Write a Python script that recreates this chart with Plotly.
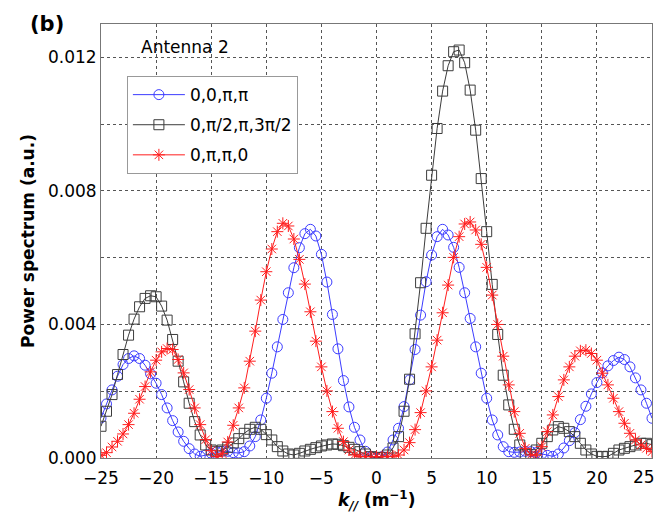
import plotly.graph_objects as go

# k_// values (m^-1), sampled every 0.5
k_vals = [i * 0.5 for i in range(-50, 51)]

series_names = ["0,0,π,π", "0,π/2,π,3π/2", "0,π,π,0"]

blue_vals = [
    0.00120, 0.00162, 0.00204, 0.00245, 0.00280, 0.00298, 0.00306, 0.00298, 0.00278, 0.00252,
    0.00224, 0.00190, 0.00150, 0.00112, 0.00078, 0.00050, 0.00028, 0.00012, 0.00005, 0.00009,
    0.00014, 0.00018, 0.00020, 0.00020, 0.00016, 0.00015, 0.00019, 0.00036, 0.00064, 0.00114,
    0.00179, 0.00254, 0.00333, 0.00415, 0.00495, 0.00570, 0.00630, 0.00672, 0.00685, 0.00665,
    0.00610, 0.00527, 0.00430, 0.00327, 0.00232, 0.00153, 0.00092, 0.00054, 0.00020, 0.00004,
    0.00000,
    0.00004, 0.00018, 0.00054, 0.00089, 0.00154, 0.00234, 0.00325, 0.00428, 0.00528, 0.00608,
    0.00663, 0.00685, 0.00668, 0.00631, 0.00571, 0.00495, 0.00418, 0.00333, 0.00254, 0.00179,
    0.00114, 0.00069, 0.00034, 0.00019, 0.00017, 0.00018, 0.00020, 0.00019, 0.00016, 0.00012,
    0.00008, 0.00005, 0.00012, 0.00030, 0.00052, 0.00076, 0.00115, 0.00155, 0.00192, 0.00226,
    0.00255, 0.00276, 0.00292, 0.00302, 0.00295, 0.00273, 0.00240, 0.00204, 0.00164, 0.00119,
]

black_vals = [
    0.00095, 0.00140, 0.00190, 0.00250, 0.00310, 0.00368, 0.00416, 0.00453, 0.00478, 0.00486,
    0.00483, 0.00455, 0.00413, 0.00355, 0.00290, 0.00228, 0.00164, 0.00109, 0.00069, 0.00039,
    0.00024, 0.00020, 0.00024, 0.00032, 0.00045, 0.00058, 0.00074, 0.00086, 0.00092, 0.00086,
    0.00070, 0.00054, 0.00034, 0.00021, 0.00012, 0.00009, 0.00014, 0.00021, 0.00026, 0.00031,
    0.00036, 0.00039, 0.00042, 0.00041, 0.00037, 0.00032, 0.00026, 0.00019, 0.00012, 0.00004,
    0.00001,
    0.00002, 0.00009, 0.00030, 0.00064, 0.00140, 0.00236, 0.00372, 0.00525, 0.00688, 0.00847,
    0.00987, 0.01099, 0.01175, 0.01217, 0.01222, 0.01184, 0.01102, 0.00982, 0.00837, 0.00678,
    0.00520, 0.00370, 0.00248, 0.00159, 0.00086, 0.00039, 0.00012, 0.00010, 0.00024, 0.00044,
    0.00064, 0.00084, 0.00094, 0.00089, 0.00079, 0.00064, 0.00044, 0.00024, 0.00012, 0.00005,
    0.00004, 0.00005, 0.00014, 0.00024, 0.00029, 0.00034, 0.00039, 0.00044, 0.00044, 0.00040,
]

red_vals = [
    0.00008, 0.00016, 0.00033, 0.00050, 0.00072, 0.00100, 0.00134, 0.00176, 0.00214, 0.00258,
    0.00293, 0.00318, 0.00328, 0.00325, 0.00295, 0.00255, 0.00205, 0.00150, 0.00100, 0.00055,
    0.00022, 0.00004, 0.00013, 0.00048, 0.00098, 0.00150, 0.00210, 0.00290, 0.00380, 0.00473,
    0.00558, 0.00626, 0.00678, 0.00703, 0.00695, 0.00656, 0.00595, 0.00521, 0.00438, 0.00350,
    0.00273, 0.00201, 0.00139, 0.00089, 0.00049, 0.00024, 0.00009, 0.00005, 0.00004, 0.00004,
    0.00004,
    0.00004, 0.00004, 0.00005, 0.00009, 0.00024, 0.00046, 0.00085, 0.00136, 0.00201, 0.00273,
    0.00353, 0.00435, 0.00518, 0.00601, 0.00663, 0.00701, 0.00707, 0.00683, 0.00640, 0.00571,
    0.00488, 0.00400, 0.00305, 0.00219, 0.00139, 0.00074, 0.00029, 0.00009, 0.00009, 0.00034,
    0.00079, 0.00129, 0.00184, 0.00234, 0.00273, 0.00305, 0.00321, 0.00323, 0.00313, 0.00293,
    0.00254, 0.00219, 0.00179, 0.00139, 0.00104, 0.00074, 0.00054, 0.00039, 0.00029, 0.00019,
]

x_ticks = [-25, -20, -15, -10, -5, 0, 5, 10, 15, 20, 25]
x_labels = ["−25", "−20", "−15", "−10", "−5", "0", "5", "10", "15", "20", ""]
last_x_label = "25"   # drawn right-aligned at the axis end so it stays inside the figure
y_grid = [0.0, 0.002, 0.004, 0.006, 0.008, 0.010, 0.012]
y_labels = ["0.000", "", "0.004", "", "0.008", "", "0.012"]
x_title = "<b><i>k</i><sub><i>//</i></sub> (m<sup>−1</sup>)</b>"
y_title = "<b>Power spectrum (a.u.)</b>"

FONT = "DejaVu Sans"

fig = go.Figure()
styles = [
    dict(color="rgb(60,60,255)", symbol="circle-open"),
    dict(color="rgb(60,60,60)", symbol="square-open"),
    dict(color="rgb(255,30,30)", symbol="asterisk-open"),
]
for name, vals, st in zip(series_names, [blue_vals, black_vals, red_vals], styles):
    fig.add_trace(go.Scatter(
        x=k_vals, y=vals, name=name, mode="lines+markers",
        line=dict(color=st["color"], width=1),
        marker=dict(symbol=st["symbol"], size=10, color=st["color"],
                    line=dict(width=1, color=st["color"])),
        legendgroup=name,
    ))

fig.update_layout(
    width=659, height=513,
    margin=dict(l=101, r=7, t=24, b=55),
    paper_bgcolor="white", plot_bgcolor="white",
    font=dict(family=FONT, size=17, color="black"),
    showlegend=True,
    legend=dict(
        x=0.047, y=0.88, xanchor="left", yanchor="top",
        bgcolor="white", bordercolor="#999", borderwidth=1,
        font=dict(family=FONT, size=17),
        tracegroupgap=5, itemwidth=52,
    ),
    xaxis=dict(
        range=[-25, 25], tickvals=x_ticks, ticktext=x_labels, showgrid=True, automargin=False,
        gridcolor="#555", griddash="dot", gridwidth=1,
        showline=True, mirror=True, linecolor="#777", linewidth=1,
        zeroline=False, ticks="outside", ticklen=5, tickcolor="rgba(0,0,0,0)",
        tickfont=dict(size=17), ticklabeloverflow="allow",
    ),
    yaxis=dict(
        range=[0, 0.013], tickvals=y_grid, ticktext=y_labels, showgrid=True, automargin=False,
        gridcolor="#555", griddash="dot", gridwidth=1,
        showline=True, mirror=True, linecolor="#777", linewidth=1,
        zeroline=False, ticks="", tickfont=dict(size=17), ticklabeloverflow="allow",
        title=dict(text=y_title, font=dict(size=17), standoff=8),
    ),
    annotations=[
        dict(text=last_x_label, x=x_ticks[-1], xref="x", y=-0.043, yref="paper",
             xanchor="right", yanchor="middle", xshift=5, showarrow=False,
             font=dict(size=17, family=FONT)),
        dict(text=x_title, x=0.5, y=-0.097, xref="paper", yref="paper",
             xanchor="center", yanchor="middle", showarrow=False,
             font=dict(size=17, family=FONT)),
        dict(text="<b>(b)</b>", x=-0.098, y=1.0, xref="paper", yref="paper",
             xanchor="center", yanchor="middle", showarrow=False,
             font=dict(size=21, family=FONT)),
        dict(text="Antenna 2", x=0.153, y=0.948, xref="paper", yref="paper",
             xanchor="center", yanchor="middle", showarrow=False,
             font=dict(size=17, family=FONT)),
    ],
)

fig.write_html(
    "out.html",
    config={"displayModeBar": False},
    post_script="document.body.style.margin='0';document.body.style.overflow='hidden';",
)
